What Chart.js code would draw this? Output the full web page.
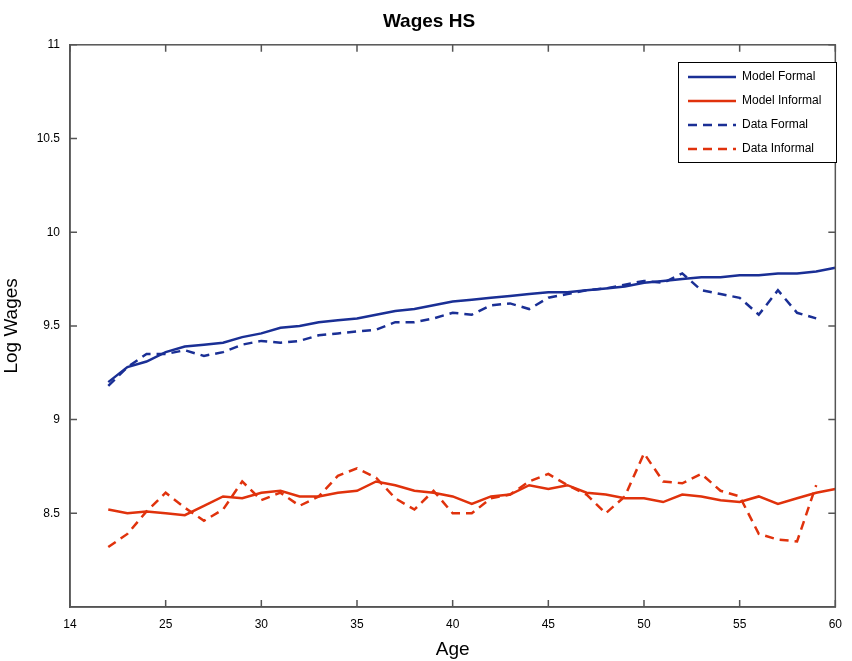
<!DOCTYPE html>
<html lang="en">
<head>
  <meta charset="UTF-8">
  <title>Wages HS</title>
  <script src="https://cdn.jsdelivr.net/npm/chart.js"></script>
  <style>
    html, body { margin: 0; padding: 0; background: #fff; }
    #wrap { width: 852px; height: 661px; }
  </style>
</head>
<body>
  <div id="wrap"><canvas id="wagesChart"></canvas></div>
  <script>
    const ages = [22,23,24,25,26,27,28,29,30,31,32,33,34,35,36,37,38,39,40,41,42,43,44,45,46,47,48,49,50,51,52,53,54,55,56,57,58,59,60];
    const modelFormal = [9.20,9.28,9.31,9.36,9.39,9.40,9.41,9.44,9.46,9.49,9.50,9.52,9.53,9.54,9.56,9.58,9.59,9.61,9.63,9.64,9.65,9.66,9.67,9.68,9.68,9.69,9.70,9.71,9.73,9.74,9.75,9.76,9.76,9.77,9.77,9.78,9.78,9.79,9.81];
    const modelInformal = [8.52,8.50,8.51,8.50,8.49,8.54,8.59,8.58,8.61,8.62,8.59,8.59,8.61,8.62,8.67,8.65,8.62,8.61,8.59,8.55,8.59,8.60,8.65,8.63,8.65,8.61,8.60,8.58,8.58,8.56,8.60,8.59,8.57,8.56,8.59,8.55,8.58,8.61,8.63];
    const dataFormal = [9.18,9.28,9.35,9.35,9.37,9.34,9.36,9.40,9.42,9.41,9.42,9.45,9.46,9.47,9.48,9.52,9.52,9.54,9.57,9.56,9.61,9.62,9.59,9.65,9.67,9.69,9.70,9.72,9.74,9.73,9.78,9.69,9.67,9.65,9.56,9.69,9.57,9.54];
    const dataInformal = [8.32,8.39,8.51,8.61,8.53,8.46,8.52,8.67,8.57,8.61,8.54,8.59,8.70,8.74,8.69,8.58,8.52,8.62,8.50,8.50,8.58,8.60,8.67,8.71,8.65,8.60,8.50,8.59,8.82,8.67,8.66,8.71,8.62,8.59,8.39,8.36,8.35,8.65];
    const xTicks = [20,25,30,35,40,45,50,55,60];
    const yTicks = [8.5,9,9.5,10,10.5,11];

    const blue = '#1a2f95';
    const red = '#e0320c';
    const pts = (vals) => vals.map((v, i) => ({ x: ages[i], y: v }));

    const legendBox = {
      id: 'legendBox',
      afterDraw(chart) {
        const ctx = chart.ctx;
        const x0 = 678, y0 = 62, w = 158, h = 100;
        ctx.save();
        ctx.fillStyle = '#fff';
        ctx.fillRect(x0, y0, w, h);
        ctx.strokeStyle = '#000';
        ctx.lineWidth = 1;
        ctx.strokeRect(x0 + 0.5, y0 + 0.5, w, h);
        ctx.font = '12px "Liberation Sans", Arial, sans-serif';
        ctx.textBaseline = 'middle';
        chart.data.datasets.forEach((ds, i) => {
          const y = y0 + 15 + i * 24;
          ctx.strokeStyle = ds.borderColor;
          ctx.lineWidth = 2.5;
          ctx.setLineDash(ds.borderDash || []);
          ctx.beginPath();
          ctx.moveTo(x0 + 10, y);
          ctx.lineTo(x0 + 58, y);
          ctx.stroke();
          ctx.setLineDash([]);
          ctx.fillStyle = '#000';
          ctx.fillText(ds.label, x0 + 64, y);
        });
        ctx.restore();
      }
    };

    new Chart(document.getElementById('wagesChart'), {
      type: 'line',
      data: {
        datasets: [
          { label: 'Model Formal', data: pts(modelFormal), borderColor: blue, borderWidth: 2.5 },
          { label: 'Model Informal', data: pts(modelInformal), borderColor: red, borderWidth: 2.5 },
          { label: 'Data Formal', data: pts(dataFormal), borderColor: blue, borderWidth: 2.5, borderDash: [9, 6] },
          { label: 'Data Informal', data: pts(dataInformal), borderColor: red, borderWidth: 2.5, borderDash: [9, 6] }
        ]
      },
      options: {
        responsive: true,
        maintainAspectRatio: false,
        animation: false,
        elements: { point: { radius: 0 }, line: { tension: 0 } },
        layout: { padding: { top: 0, right: -6, left: 0, bottom: 0 } },
        plugins: {
          legend: { display: false },
          tooltip: { enabled: false },
          title: {
            display: true,
            text: 'Wages HS',
            color: '#000',
            font: { family: '"Liberation Sans", Arial, sans-serif', size: 19, weight: 'bold' },
            padding: { top: 10, bottom: 12 }
          }
        },
        scales: {
          x: {
            type: 'linear',
            min: 20, max: 60,
            afterBuildTicks: (s) => { s.ticks = xTicks.map(v => ({ value: v })); },
            afterFit: (s) => { s.height = 54; },
            grid: { display: false, drawTicks: false },
            border: { color: '#555', width: 1.5 },
            ticks: {
              color: '#000',
              padding: 10,
              maxRotation: 0,
              font: { family: '"Liberation Sans", Arial, sans-serif', size: 12 },
              callback: (v) => v === 20 ? '14' : v
            },
            title: {
              display: true, text: 'Age', color: '#000', padding: 0,
              font: { family: '"Liberation Sans", Arial, sans-serif', size: 19 }
            }
          },
          y: {
            min: 8, max: 11,
            afterBuildTicks: (s) => { s.ticks = yTicks.map(v => ({ value: v })); },
            afterFit: (s) => { s.width = 70; },
            grid: { display: false, drawTicks: false },
            border: { color: '#555', width: 1.5 },
            ticks: {
              color: '#000',
              padding: 10,
              font: { family: '"Liberation Sans", Arial, sans-serif', size: 12 },
              callback: (v) => v
            },
            title: {
              display: true, text: 'Log Wages', color: '#000', padding: 0,
              font: { family: '"Liberation Sans", Arial, sans-serif', size: 19 }
            }
          }
        }
      },
      plugins: [legendBox, {
        id: 'frame',
        afterDatasetsDraw(chart) {
          const { ctx, chartArea: a, scales } = chart;
          ctx.save();
          ctx.strokeStyle = '#555';
          ctx.lineWidth = 1.5;
          ctx.strokeRect(a.left, a.top, a.right - a.left, a.bottom - a.top);
          ctx.beginPath();
          xTicks.forEach(v => {
            const px = scales.x.getPixelForValue(v);
            ctx.moveTo(px, a.bottom); ctx.lineTo(px, a.bottom - 7);
            ctx.moveTo(px, a.top); ctx.lineTo(px, a.top + 7);
          });
          yTicks.forEach(v => {
            const py = scales.y.getPixelForValue(v);
            ctx.moveTo(a.left, py); ctx.lineTo(a.left + 7, py);
            ctx.moveTo(a.right, py); ctx.lineTo(a.right - 7, py);
          });
          ctx.stroke();
          ctx.restore();
        }
      }]
    });
  </script>
</body>
</html>
